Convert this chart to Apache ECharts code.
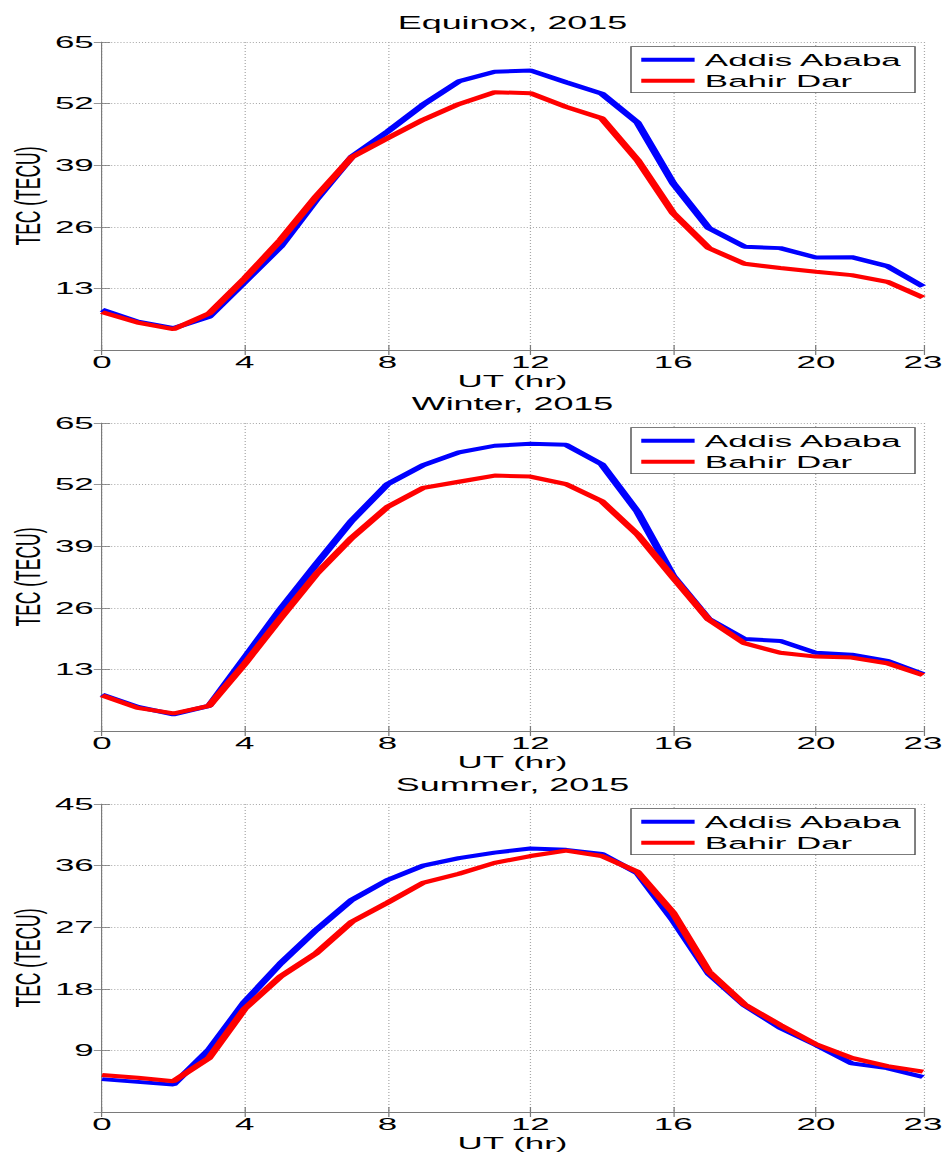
<!DOCTYPE html>
<html><head><meta charset="utf-8">
<script src="https://cdn.jsdelivr.net/npm/echarts@6/dist/echarts.min.js"></script>
<style>
html,body{margin:0;padding:0;background:#fff;overflow:hidden;width:946px;height:1155px}
#chart{width:461px;height:1155px;transform:scaleX(2.05206);transform-origin:0 0;}
</style></head><body><div id="chart"></div>
<script>
const hours = [0,1,2,3,4,5,6,7,8,9,10,11,12,13,14,15,16,17,18,19,20,21,22,23];
const panelTitles = ['Equinox, 2015', 'Winter, 2015', 'Summer, 2015'];
const seriesNames = ['Addis Ababa', 'Bahir Dar'];
const xAxisName = 'UT (hr)';
const yAxisName = 'TEC (TECU)';
const yMaxes = [65, 65, 45];
const yIntervals = [13, 13, 9];
const xMax = 23;
const xInterval = 4;

const equinoxAddis = [8.5,6.0,4.6,7.0,14.4,21.8,31.7,40.8,46.1,51.8,56.7,58.7,59.0,56.5,54.1,48.0,35.2,25.7,21.8,21.5,19.5,19.6,17.7,13.4];
const equinoxBahir = [8.0,5.8,4.4,7.7,15.1,23.2,32.4,40.7,44.7,48.6,51.9,54.4,54.2,51.3,48.9,40.1,28.9,21.5,18.2,17.3,16.5,15.8,14.4,11.1];
const winterAddis  = [7.7,5.1,3.5,5.3,15.5,25.7,35.2,44.4,52.1,56.1,58.8,60.2,60.6,60.4,56.3,46.3,32.7,23.6,19.4,19.0,16.5,16.1,14.8,12.0];
const winterBahir  = [7.5,4.9,3.7,5.3,14.2,23.8,33.1,40.8,47.3,51.3,52.6,53.9,53.7,52.1,48.5,41.5,32.4,23.5,18.5,16.5,15.7,15.5,14.3,11.8];
const summerAddis  = [4.8,4.4,4.0,9.1,16.1,21.7,26.6,31.0,33.9,36.0,37.1,37.9,38.5,38.3,37.7,34.9,28.0,20.2,15.6,12.3,9.8,7.1,6.4,5.1];
const summerBahir  = [5.4,5.0,4.5,7.9,15.1,19.8,23.2,27.8,30.6,33.5,34.8,36.4,37.4,38.2,37.4,35.1,29.1,20.5,15.7,12.7,9.9,7.9,6.7,5.9];

const panelData = [[equinoxAddis, equinoxBahir], [winterAddis, winterBahir], [summerAddis, summerBahir]];
const colors = ['#0000ff', '#ff0000'];

const FONT = '"Liberation Sans", Arial, Helvetica, sans-serif';
const gridTops = [42, 423, 804];
const gridH = 308;
const gridLeft = 49.7, gridRight = 11.2;
const axisColor = '#7a7a7a';
const gridLineColor = '#a8a8a8';

const grids = [], xAxes = [], yAxes = [], series = [], legends = [], graphics = [];
const plotCenterX = gridLeft + (461 - gridLeft - gridRight) / 2;

panelData.forEach((pair, i) => {
  grids.push({ left: gridLeft, right: gridRight, top: gridTops[i], height: gridH, containLabel: false,
    outerBoundsMode: 'none', show: false });
  const xBase = { type: 'value', min: 0, max: xMax, interval: xInterval, gridIndex: i };
  xAxes.push(Object.assign({}, xBase, {
    position: 'bottom',
    name: xAxisName, nameLocation: 'middle', nameGap: 22,
    nameTextStyle: { fontFamily: FONT, fontSize: 17, color: '#000', lineHeight: 18 },
    axisLine: { show: true, lineStyle: { color: axisColor, width: 0.8 } },
    axisTick: { show: true, inside: true, length: 5, lineStyle: { color: axisColor, width: 0.6 } },
    axisLabel: { fontFamily: FONT, fontSize: 17, color: '#000', margin: 4, lineHeight: 17 },
    splitLine: { show: true, lineStyle: { color: gridLineColor, type: [1, 2], width: 0.6 } }
  }));
  xAxes.push(Object.assign({}, xBase, {
    position: 'top',
    axisLine: { show: true, lineStyle: { color: axisColor, width: 0.8 } },
    axisTick: { show: true, inside: true, length: 5, lineStyle: { color: axisColor, width: 0.6 } },
    axisLabel: { show: false }, splitLine: { show: false }
  }));
  const yBase = { type: 'value', min: 0, max: yMaxes[i], interval: yIntervals[i], gridIndex: i };
  yAxes.push(Object.assign({}, yBase, {
    position: 'left',
    name: yAxisName, nameLocation: 'middle', nameGap: 27.5, nameRotate: 90,
    nameMoveOverlap: false,
    nameTextStyle: { fontFamily: FONT, fontSize: 17.5, color: '#000' },
    axisLine: { show: true, lineStyle: { color: axisColor, width: 0.5 } },
    axisTick: { show: true, inside: true, length: 4, lineStyle: { color: axisColor, width: 0.8 } },
    axisLabel: { fontFamily: FONT, fontSize: 17, color: '#000', margin: 4, showMinLabel: false },
    splitLine: { show: true, lineStyle: { color: gridLineColor, type: [0.5, 1], width: 0.8 } }
  }));
  yAxes.push(Object.assign({}, yBase, {
    position: 'right',
    axisLine: { show: true, lineStyle: { color: axisColor, width: 0.5 } },
    axisTick: { show: true, inside: true, length: 4, lineStyle: { color: axisColor, width: 0.8 } },
    axisLabel: { show: false }, splitLine: { show: false }
  }));
  pair.forEach((vals, k) => {
    series.push({
      name: seriesNames[k], type: 'line', xAxisIndex: 2 * i, yAxisIndex: 2 * i,
      data: hours.map((h, j) => [h, vals[j]]),
      symbol: 'none', color: colors[k],
      lineStyle: { color: colors[k], width: 4 },
      animation: false, z: 3 + k
    });
  });
  legends.push({
    orient: 'vertical', right: 15.1, top: gridTops[i] + 4.7,
    icon: 'rect', itemWidth: 26, itemHeight: 4, itemGap: 1,
    padding: [3, 6, 2, 5],
    backgroundColor: '#fff', borderColor: '#505050', borderWidth: 0.7,
    textStyle: { fontFamily: FONT, fontSize: 17, color: '#000', lineHeight: 20 },
    data: seriesNames, selectedMode: false
  });
  graphics.push({
    type: 'text', x: plotCenterX, y: gridTops[i] - 19.3, z: 10,
    style: { text: panelTitles[i], font: '17.5px ' + FONT, fill: '#000',
      textAlign: 'center', textVerticalAlign: 'middle' }
  });
});

const chart = echarts.init(document.getElementById('chart'), null, { renderer: 'svg' });
chart.setOption({
  backgroundColor: '#fff',
  animation: false,
  grid: grids, xAxis: xAxes, yAxis: yAxes, series: series,
  legend: legends, graphic: graphics
});
</script></body></html>
